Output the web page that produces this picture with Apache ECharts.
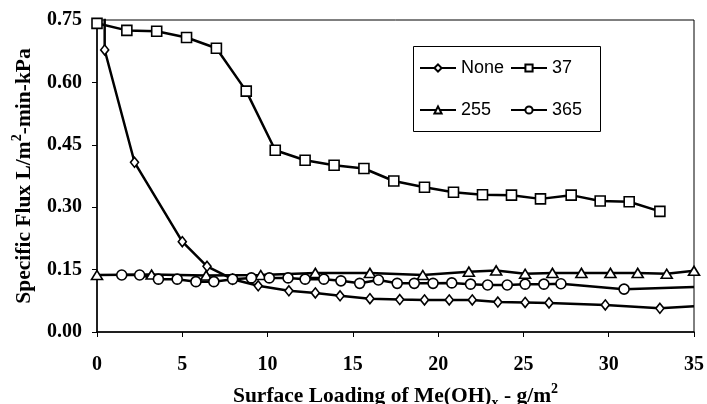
<!DOCTYPE html>
<html><head><meta charset="utf-8">
<script src="https://cdn.jsdelivr.net/npm/echarts@6/dist/echarts.min.js"></script>
<style>html,body{margin:0;padding:0;background:#fff}#c{width:707px;height:404px}</style>
</head><body><div id="c"></div>
<script>
// Data
const noneX = [0.45, 0.45, 2.2, 5.0, 6.45, 7.95, 9.45, 11.25, 12.8, 14.25, 16.0, 17.75, 19.2, 20.65, 22.0, 23.5, 25.1, 26.5, 29.8, 33.0, 35.0];
const noneY = [0.80, 0.678, 0.408, 0.217, 0.158, 0.127, 0.111, 0.099, 0.094, 0.087, 0.080, 0.078, 0.077, 0.077, 0.077, 0.072, 0.071, 0.070, 0.065, 0.057, 0.062];
const noneHidden = [0, 20]; // indices drawn without a marker (off-chart start, line end)

const s37X = [0, 1.75, 3.5, 5.25, 7.0, 8.75, 10.45, 12.2, 13.9, 15.65, 17.4, 19.2, 20.9, 22.6, 24.3, 26.0, 27.8, 29.5, 31.2, 33.0];
const s37Y = [0.742, 0.725, 0.723, 0.708, 0.682, 0.579, 0.437, 0.413, 0.401, 0.393, 0.363, 0.348, 0.336, 0.330, 0.329, 0.320, 0.329, 0.315, 0.313, 0.290];

const s255X = [0, 3.2, 6.4, 9.6, 12.8, 16.0, 19.1, 21.8, 23.4, 25.1, 26.7, 28.4, 30.1, 31.7, 33.4, 35.0];
const s255Y = [0.137, 0.138, 0.136, 0.137, 0.142, 0.142, 0.137, 0.145, 0.148, 0.140, 0.142, 0.142, 0.142, 0.142, 0.140, 0.147];

const s365X = [1.45, 2.5, 3.6, 4.7, 5.8, 6.85, 7.95, 9.05, 10.1, 11.2, 12.2, 13.3, 14.3, 15.4, 16.5, 17.6, 18.6, 19.7, 20.8, 21.9, 22.9, 24.05, 25.1, 26.2, 27.2, 30.9, 35.0];
const s365Y = [0.137, 0.137, 0.127, 0.127, 0.121, 0.121, 0.127, 0.130, 0.130, 0.130, 0.127, 0.127, 0.123, 0.117, 0.125, 0.117, 0.117, 0.117, 0.118, 0.115, 0.113, 0.113, 0.115, 0.115, 0.116, 0.103, 0.108];
const s365Hidden = [26];

const xMin = 0, xMax = 35, xStep = 5;
const yMin = 0, yMax = 0.75, yStep = 0.15;
const seriesNames = ['None', '37', '255', '365'];

function pairs(xs, ys, hidden) {
  return xs.map((x, i) => (hidden && hidden.includes(i)) ? {value: [x, ys[i]], symbol: 'none'} : [x, ys[i]]);
}

const serif = 'Liberation Serif, Times New Roman, serif';
const sans = 'Liberation Sans, Arial, sans-serif';

function mk(name, data, symbol, size) {
  return {
    name, type: 'line', data, symbol, symbolSize: size, clip: true,
    showAllSymbol: true,
    lineStyle: {color: '#000', width: 2.5},
    itemStyle: {color: '#fff', borderColor: '#000', borderWidth: 1.6},
    emphasis: {disabled: true}, animation: false
  };
}

function leg(name, left, top) {
  return {
    data: [name], left, top, padding: 0, itemWidth: 36, itemHeight: 9,
    selectedMode: false,
    textStyle: {fontFamily: sans, fontSize: 18, color: '#000'}
  };
}

const titleRich = {
  a: {fontFamily: serif, fontSize: 21.5, fontWeight: 'bold', color: '#000', lineHeight: 28},
  sub: {fontFamily: serif, fontSize: 14, fontWeight: 'bold', color: '#000', lineHeight: 28, verticalAlign: 'bottom'},
  sup: {fontFamily: serif, fontSize: 14, fontWeight: 'bold', color: '#000', lineHeight: 12, verticalAlign: 'top'}
};

const chart = echarts.init(document.getElementById('c'), null, {renderer: 'canvas'});
chart.setOption({
  animation: false,
  backgroundColor: '#fff',
  grid: {left: 97, right: 13, top: 20, bottom: 72, show: true, borderColor: '#000', borderWidth: 1,
    containLabel: false, outerBoundsMode: 'none'},
  graphic: [{
    type: 'rect', left: 413, top: 46, z: 0,
    shape: {width: 187, height: 85},
    style: {fill: '#fff', stroke: '#000', lineWidth: 1}
  }],
  legend: [
    leg(seriesNames[0], 419, 59),
    leg(seriesNames[1], 510, 59),
    leg(seriesNames[2], 419, 101),
    leg(seriesNames[3], 510, 101)
  ],
  xAxis: {
    type: 'value', min: xMin, max: xMax, interval: xStep,
    axisLine: {lineStyle: {color: '#000', width: 1.5}},
    axisTick: {show: true, length: 5, lineStyle: {color: '#000'}},
    splitLine: {show: false},
    axisLabel: {fontFamily: serif, fontSize: 20, fontWeight: 'bold', color: '#000', margin: 23},
    name: '{a|Surface Loading of Me(OH)}{sub|x}{a| - g/m}{sup|2}',
    nameLocation: 'middle', nameGap: 50,
    nameTextStyle: {rich: titleRich}
  },
  yAxis: {
    type: 'value', min: yMin, max: yMax, interval: yStep,
    axisLine: {show: true, lineStyle: {color: '#000', width: 1.5}},
    axisTick: {show: true, length: 5, lineStyle: {color: '#000'}},
    splitLine: {show: false},
    axisLabel: {fontFamily: serif, fontSize: 20, fontWeight: 'bold', color: '#000', margin: 15,
      formatter: v => v.toFixed(2)},
    name: '{a|Specific Flux L/m}{sup|2}{a|-min-kPa}',
    nameLocation: 'middle', nameGap: 59,
    nameTextStyle: {rich: titleRich}
  },
  series: [
    mk(seriesNames[0], pairs(noneX, noneY, noneHidden), 'diamond', [8, 10]),
    mk(seriesNames[1], pairs(s37X, s37Y), 'rect', 10),
    mk(seriesNames[2], pairs(s255X, s255Y), 'triangle', [11, 9]),
    mk(seriesNames[3], pairs(s365X, s365Y, s365Hidden), 'circle', 10)
  ]
});
</script>
</body></html>
